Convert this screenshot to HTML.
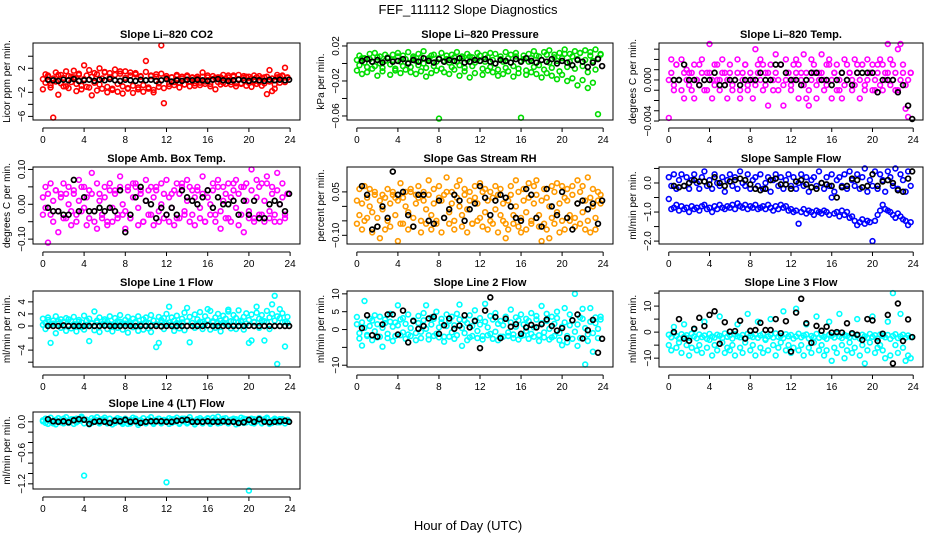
<!DOCTYPE html>
<html><head><meta charset="utf-8"><title>FEF_111112 Slope Diagnostics</title>
<style>
html,body{margin:0;padding:0;background:#fff;}
svg{display:block;font-family:"Liberation Sans",Arial,sans-serif;}
</style></head>
<body>
<svg id="chart" width="936" height="540" viewBox="0 0 936 540" xmlns="http://www.w3.org/2000/svg">
<rect width="936" height="540" fill="#fff"/>
<text x="468" y="14" text-anchor="middle" font-size="13">FEF_111112  Slope Diagnostics</text>
<text x="468" y="530" text-anchor="middle" font-size="13">Hour of Day (UTC)</text>
</svg>
<script>
const hours = [0,0.25,0.5,0.75,1,1.25,1.5,1.75,2,2.25,2.5,2.75,3,3.25,3.5,3.75,4,4.25,4.5,4.75,5,5.25,5.5,5.75,6,6.25,6.5,6.75,7,7.25,7.5,7.75,8,8.25,8.5,8.75,9,9.25,9.5,9.75,10,10.25,10.5,10.75,11,11.25,11.5,11.75,12,12.25,12.5,12.75,13,13.25,13.5,13.75,14,14.25,14.5,14.75,15,15.25,15.5,15.75,16,16.25,16.5,16.75,17,17.25,17.5,17.75,18,18.25,18.5,18.75,19,19.25,19.5,19.75,20,20.25,20.5,20.75,21,21.25,21.5,21.75,22,22.25,22.5,22.75,23,23.25,23.5,23.75];
const hoursK = [0.5,1,1.5,2,2.5,3,3.5,4,4.5,5,5.5,6,6.5,7,7.5,8,8.5,9,9.5,10,10.5,11,11.5,12,12.5,13,13.5,14,14.5,15,15.5,16,16.5,17,17.5,18,18.5,19,19.5,20,20.5,21,21.5,22,22.5,23,23.5,23.9];
const xTicks = [0,4,8,12,16,20,24];

const co2A = [0.2,-0.4,0.6,-0.8,0.3,-0.2,0.9,-0.5,0.4,-1.0,0.7,-0.3,0.5,-0.6,1.1,-0.9,0.2,0.8,-1.2,0.6,-0.4,1.0,-0.7,0.3,1.3,-1.1,0.5,-1.4,0.9,-0.6,1.5,-1.0,0.4,-1.3,0.8,-0.9,1.2,-1.5,0.6,-0.8,1.4,-1.2,0.7,-1.6,1.0,-0.5,1.1,-1.3,0.4,-0.6,0.5,-0.3,0.7,-0.4,0.3,-0.7,0.6,-0.2,0.4,-0.5,0.3,-0.4,0.6,-0.2,0.5,-0.6,0.2,0.4,-0.3,0.5,-0.4,0.3,0.5,-0.3,0.8,-0.5,0.2,-0.6,0.4,0.6,-0.4,0.3,-0.2,0.5,-0.3,0.4,-0.5,0.6,-0.2,0.3,-0.7,0.5,-0.4,0.8,-0.3,0.4];
const co2B = [-1.5,1.0,0.8,-1.2,-6.2,1.3,-2.4,0.9,-1.0,1.5,-1.3,0.6,1.6,-1.8,0.9,-1.5,2.5,-1.1,1.7,-2.5,1.2,-1.7,2.0,-1.4,1.4,-2.0,1.2,-1.6,1.8,-1.9,1.1,-2.2,1.5,-1.4,1.3,-2.1,1.0,-1.2,0.7,-1.9,3.2,-1.4,0.8,-2.0,0.6,-1.1,5.8,-3.8,0.7,-1.0,0.5,-0.8,0.9,-1.2,0.6,-0.7,0.8,-1.0,0.5,-0.9,0.6,-0.8,1.3,-0.6,0.8,-1.0,0.7,-1.5,0.5,-0.7,0.9,-0.6,0.8,-0.7,0.6,-1.0,0.9,-0.5,0.7,-0.9,0.6,-1.1,0.8,-0.6,0.7,-0.9,0.5,-2.3,1.7,-1.8,-1.4,0.9,0.6,0.7,2.1,0.5];
const co2K = [0.1,0,-0.1,0.1,0,0.2,-0.1,0,0.1,-0.1,0.1,0,0.2,0,-0.1,0.1,0,-0.1,0.1,0,0.1,-0.1,0,0.2,-0.2,0,-0.1,0.1,0,0.1,0,-0.1,0.1,0.2,0,-0.1,0,0.1,0,-0.1,0.1,0,-0.1,0.1,0,0.1,0,0.1];

const presA = [0.004,-0.002,0.006,0.001,-0.004,0.005,0.002,-0.003,0.007,0.000,-0.005,0.003,0.006,-0.001,0.004,-0.006,0.008,0.002,-0.003,0.005,0.001,-0.004,0.006,0.003,-0.002,0.007,0.000,-0.005,0.004,0.009,-0.003,0.002,0.006,-0.006,0.003,0.005,0.001,-0.004,0.007,0.002,-0.002,0.006,-0.005,0.004,0.008,-0.003,0.001,0.005,0.003,-0.006,0.002,0.007,-0.004,0.004,0.000,-0.007,0.005,0.002,-0.005,0.006,0.001,-0.003,0.008,-0.006,0.003,0.005,-0.008,0.002,0.006,-0.004,0.009,-0.002,0.004,-0.007,0.010,0.001,-0.005,0.007,0.003,-0.009,0.006,0.011,-0.004,0.002,0.008,-0.006,0.005,0.012,-0.003,0.004,-0.010,0.009,0.003,-0.007,0.006,0.010];
const presB = [-0.008,0.009,-0.012,0.006,-0.010,0.011,-0.006,0.012,-0.014,0.008,-0.009,0.010,0.007,-0.013,0.010,-0.008,0.012,-0.011,0.009,-0.007,0.013,-0.010,0.008,-0.012,0.011,-0.009,0.014,-0.015,0.006,-0.011,0.010,-0.008,-0.063,0.012,-0.010,0.009,-0.012,0.010,-0.007,0.013,-0.014,0.008,-0.009,0.011,-0.016,0.007,-0.011,0.012,0.009,-0.013,0.010,-0.008,0.012,-0.010,0.011,-0.014,0.008,-0.012,0.013,-0.009,0.010,-0.015,0.012,-0.011,-0.062,0.009,-0.013,0.011,-0.010,0.014,-0.012,0.008,-0.016,0.013,-0.011,0.015,-0.014,0.010,-0.018,0.012,-0.013,0.016,-0.020,0.011,-0.017,0.014,-0.025,0.012,-0.019,0.015,-0.028,0.013,-0.022,0.016,-0.058,0.011];
const presK = [0.003,0.005,0.002,0.004,0.001,0.006,0.002,0.003,0.005,0.000,0.004,0.002,0.006,0.003,0.001,0.005,0.002,0.004,0.003,0.006,0.001,0.002,0.004,0.003,0.005,0.002,0.000,0.004,0.003,0.001,0.005,0.002,0.006,0.003,0.001,0.004,0.002,0.005,0.000,0.003,0.001,-0.002,0.004,0.002,-0.004,0.001,0.005,-0.003];

const tempA = [0,0.0007,-0.0005,0.0015,0,-0.001,0.0007,0,-0.0005,0.0007,0.0015,0,-0.0005,0.0007,0,-0.001,0.0007,0,-0.0005,0.0015,0,0.0007,-0.0005,0,0.0007,-0.0005,0,0.0007,-0.001,0,0.0015,-0.0005,0.0007,0,-0.0005,0.0007,0,0.0015,-0.0005,0.0007,0,-0.001,0.0007,0,0.0015,-0.0005,0,0.0007,-0.0005,0,0.0007,0.0015,0,-0.0005,0.0007,-0.001,0,0.0007,-0.0005,0,0.0007,0,-0.0005,0.0015,0,0.0007,-0.001,0,0.0007,-0.0005,0,0.0007,0,-0.0005,0.0007,0,0.0015,-0.0005,0,0.0007,-0.001,0,0.0007,-0.0005,0.0015,0,0.0007,-0.0005,0,0.0007,-0.001,0,0.0007,-0.0005,0,0.0007];
const tempB = [-0.0037,0.002,-0.001,0.0015,0,0.002,-0.0018,0.001,0.0007,-0.001,-0.0018,0,0.0015,0.002,-0.001,0.0007,0.0035,-0.0018,0.0015,0,-0.001,0.002,0.0007,-0.0018,0.0015,-0.001,0,0.002,-0.0018,0.0007,0.0015,-0.001,0,-0.0018,0.003,0.0015,0.002,-0.001,0.0007,-0.0025,0.0015,0,0.0025,-0.001,0.0015,-0.0025,0.002,0.0007,-0.001,0.0015,0.002,-0.0018,0.0007,0.0025,-0.0018,-0.0025,0.002,0.0015,-0.0018,0.0007,0.0025,-0.001,0.0015,0.002,-0.0018,0.0007,0.0015,-0.001,-0.0018,0.002,0.0015,0.0007,-0.001,0.002,0.0015,-0.0018,0.0015,-0.001,0.002,0.0007,0.0015,-0.001,0.0015,0.002,-0.001,0.0007,0.0035,0.002,0.0015,-0.001,0.003,0.0035,0.0015,-0.0028,-0.0036,0.0007];
const tempK = [0,0,0.0015,0,0,-0.0005,0,0,0.0007,-0.0005,-0.0005,0,0,-0.0005,0,0,0,0.0007,0,0,0.0015,0.0015,0.0007,0,0,-0.0005,0,0.0007,0.0007,0,0,-0.0005,0,0.0007,0,-0.0005,0.0007,0.0007,0.0007,0.0007,-0.0012,0,0,0,-0.0012,-0.0005,-0.0025,-0.0038];

const ambA = [0.02,-0.01,0.03,-0.03,0.01,0.04,-0.02,0.02,-0.04,0.03,0.00,-0.02,0.04,-0.03,0.01,0.05,-0.01,0.02,-0.04,0.03,-0.02,0.06,0.01,-0.03,0.02,-0.05,0.04,-0.01,0.03,-0.03,0.05,0.00,-0.02,0.04,-0.04,0.02,0.06,-0.01,0.03,-0.05,0.01,0.04,-0.03,0.02,0.05,-0.02,0.00,0.03,-0.03,0.02,-0.01,0.04,-0.04,0.03,0.06,-0.02,0.01,0.05,-0.03,0.02,0.04,-0.01,0.03,-0.05,0.02,0.00,0.04,-0.03,0.05,-0.02,0.01,0.03,-0.04,0.02,0.06,-0.01,0.03,-0.03,0.05,0.01,-0.02,0.04,-0.04,0.02,0.05,-0.03,0.01,0.06,-0.02,0.03,-0.05,0.04,0.00,0.02,-0.03,0.03];
const ambB = [-0.03,0.05,-0.11,0.06,-0.05,0.04,-0.08,0.03,0.06,-0.04,0.05,-0.06,0.03,-0.05,0.07,-0.02,0.05,-0.06,0.04,0.09,-0.05,-0.07,0.03,-0.04,0.05,-0.06,0.06,-0.05,0.04,-0.04,0.08,-0.03,-0.07,0.05,-0.04,0.06,0.05,-0.06,0.04,-0.05,0.07,-0.03,0.05,-0.06,0.04,-0.05,0.06,-0.04,0.07,-0.05,0.03,-0.06,0.06,-0.04,0.05,-0.03,0.07,-0.05,0.04,-0.06,0.05,-0.04,0.08,-0.05,0.04,-0.03,0.06,-0.05,0.07,-0.07,0.05,-0.04,0.06,-0.05,0.04,0.07,-0.06,0.05,-0.08,0.06,-0.04,0.10,-0.05,0.07,-0.03,0.06,-0.05,0.08,-0.04,0.05,-0.03,0.09,-0.05,0.06,-0.04,0.03];
const ambK = [-0.01,-0.02,-0.02,-0.03,-0.03,0.07,-0.02,0.02,-0.02,-0.02,-0.01,-0.02,-0.01,-0.02,0.04,-0.08,-0.03,0.02,0.05,0.01,0.00,-0.04,-0.01,-0.03,-0.01,-0.03,0.04,0.02,0.01,0.00,0.02,0.04,-0.01,0.02,0.00,0.00,0.01,-0.03,0.01,-0.03,0.01,-0.04,-0.04,0.00,0.01,0.00,-0.02,0.03];

const rhA = [0.02,-0.03,0.01,-0.05,0.03,0.00,-0.02,0.04,-0.04,0.02,-0.01,0.03,-0.05,0.01,0.04,-0.03,0.02,-0.06,0.03,0.00,-0.02,0.05,-0.04,0.01,0.03,-0.05,0.02,-0.01,0.04,-0.03,0.01,-0.06,0.03,0.02,-0.04,0.05,-0.02,0.01,-0.05,0.03,0.00,-0.03,0.04,-0.01,0.02,-0.06,0.03,0.01,-0.04,0.05,-0.02,0.02,-0.05,0.03,-0.01,0.04,-0.03,0.01,-0.06,0.02,0.04,-0.03,0.00,0.05,-0.04,0.02,-0.02,0.03,-0.05,0.01,0.04,-0.03,0.02,-0.06,0.03,0.00,-0.04,0.05,-0.02,0.01,-0.05,0.03,0.02,-0.03,0.04,-0.04,0.01,0.05,-0.02,0.02,-0.05,0.03,0.00,-0.04,0.02,0.01];
const rhB = [-0.06,0.06,-0.08,0.07,-0.04,0.06,-0.09,0.05,-0.07,-0.11,0.04,-0.08,0.06,-0.07,0.05,0.03,-0.12,0.08,-0.06,0.05,-0.08,0.06,-0.07,0.04,0.07,-0.09,0.05,-0.06,0.09,-0.08,0.06,-0.05,0.07,-0.09,0.04,0.10,-0.06,0.05,-0.08,0.07,0.09,-0.07,0.06,-0.09,0.05,-0.06,0.07,-0.05,0.08,-0.07,0.06,-0.08,0.05,-0.06,0.07,-0.09,0.06,-0.05,-0.11,-0.08,0.07,-0.06,0.09,-0.07,-0.09,0.06,-0.08,0.08,-0.06,0.07,0.09,-0.07,-0.12,0.06,-0.08,-0.11,0.07,-0.06,0.08,-0.09,0.07,-0.08,0.06,-0.05,0.07,-0.07,0.09,-0.06,0.07,-0.08,0.10,-0.09,0.06,-0.08,0.05,0.04];
const rhK = [0.07,0.04,-0.08,-0.07,0.00,-0.04,0.12,0.04,0.05,-0.03,-0.07,0.04,0.04,-0.05,-0.06,0.02,-0.04,-0.01,0.04,0.02,-0.05,-0.01,0.01,0.07,0.03,-0.03,0.02,0.04,0.03,0.00,-0.04,-0.05,0.06,0.04,-0.04,-0.07,0.06,0.00,-0.03,0.05,-0.04,-0.08,0.01,0.02,-0.01,0.01,-0.06,0.02];

const sampA = [0.2,-0.1,0.3,-0.2,0.1,0.3,-0.1,0.2,-0.2,0.1,0.3,0.0,-0.2,0.2,0.4,-0.1,0.1,-0.2,0.3,0.0,-0.1,0.2,-0.3,0.1,0.3,-0.1,0.2,-0.2,0.4,0.0,-0.1,0.3,-0.2,0.1,0.2,-0.1,0.3,-0.2,0.0,0.2,-0.3,0.1,0.3,-0.1,0.2,-0.2,0.1,0.3,-0.1,0.2,-0.2,0.0,0.3,-0.1,0.2,-0.3,0.1,0.2,-0.1,0.4,0.0,-0.2,0.2,-0.1,0.3,-0.3,0.1,0.2,-0.1,0.3,-0.2,0.4,0.1,-0.1,0.3,-0.2,0.2,0.5,-0.3,0.1,-0.1,0.4,-0.2,0.3,0.1,-0.3,0.4,0.2,-0.1,0.5,-0.2,0.3,0.1,-0.3,0.4,-0.1];
const sampB = [-0.55,-0.9,-0.85,-0.75,-0.95,-0.8,-0.9,-0.85,-1.0,-0.8,-0.9,-0.85,-0.95,-0.8,-0.75,-0.9,-0.85,-1.0,-0.8,-0.9,-0.75,-0.85,-0.9,-0.8,-0.85,-0.75,-0.9,-0.7,-0.8,-0.85,-0.75,-0.9,-0.8,-0.85,-0.75,-0.9,-0.85,-0.8,-0.9,-0.75,-0.85,-0.95,-0.8,-0.9,-0.75,-0.85,-0.8,-0.95,-0.9,-1.0,-0.95,-1.4,-1.0,-0.9,-1.05,-0.95,-1.0,-1.1,-0.95,-1.0,-1.05,-0.95,-1.0,-1.1,-0.5,-1.05,-1.0,-1.15,-0.95,-1.1,-1.0,-1.2,-1.15,-1.3,-1.45,-1.35,-1.25,-1.4,-1.3,-1.35,-2.0,-1.3,-1.1,-0.95,-0.75,-0.9,-0.95,-1.0,-1.1,-1.2,-1.05,-1.15,-1.25,-1.3,-1.45,-1.35];
const sampK = [-0.1,-0.15,-0.1,0.0,0.1,0.05,0.05,-0.05,0.2,0.0,-0.1,0.05,0.1,0.15,0.1,-0.05,-0.2,-0.25,-0.2,0.1,0.15,-0.05,-0.05,-0.2,0.05,0.1,-0.05,-0.15,-0.2,0.0,-0.05,-0.1,-0.5,-0.15,-0.1,0.15,0.1,-0.15,-0.1,0.3,-0.1,0.05,0.1,0.0,-0.25,-0.3,0.15,0.4];

const l1A = [1.2,0.5,1.4,0.2,0.9,1.6,0.4,1.1,0.7,1.3,0.1,0.8,1.5,0.3,1.0,0.6,1.7,0.2,1.2,0.5,2.4,0.9,1.4,0.3,1.1,0.7,1.6,0.2,1.3,0.8,1.8,0.4,1.0,1.5,0.3,1.2,0.7,1.6,0.2,1.1,1.4,0.5,1.8,0.9,0.3,1.5,1.0,1.3,2.0,0.6,1.4,0.9,1.7,0.4,1.2,2.2,0.8,1.5,0.5,1.9,1.1,2.3,0.7,1.6,1.0,2.5,0.6,1.4,2.0,0.9,1.7,1.2,2.4,0.8,1.8,1.3,2.6,0.7,1.5,2.1,1.0,1.9,0.6,2.2,1.2,1.8,0.8,2.5,1.4,2.0,0.9,1.6,1.3,2.1,0.7,1.5];
const l1B = [0.2,-0.5,1.0,-2.8,0.4,-1.2,0.8,-0.3,0.6,-0.8,1.1,-0.4,0.3,-0.9,0.7,-0.2,-0.6,0.9,-2.5,0.4,-0.7,0.6,-1.0,0.2,0.8,-0.5,0.3,-0.9,0.5,-0.3,0.7,-0.6,0.4,-1.1,0.6,-0.2,0.5,-0.8,0.3,-0.6,0.7,-0.4,-1.0,0.9,-3.5,-2.8,0.6,-0.5,0.4,3.2,0.3,-0.8,0.5,-0.4,0.6,-0.7,3.0,-2.7,0.5,-0.3,0.2,0.7,-0.5,0.4,2.8,-0.6,0.8,-0.3,0.5,-0.9,0.6,0.3,2.7,-0.4,0.8,-0.5,0.6,0.9,-0.6,0.4,-2.8,-2.4,0.7,3.2,-0.3,0.9,-2.4,0.6,-0.5,3.6,5.0,-6.3,2.8,0.6,-3.4,0.5];
const l1K = [0,0,0,0.1,0,0,0,0,0,0,0,0.05,0,0,0,0,0,0,0,0,0,0,-0.05,0,0,0,0,0,0,0,0,0.1,0,0,0,0,0,0,0,0.05,0,0,0,0,0,0,0,0];

const l2A = [1.5,-1.0,2.0,0.5,-1.5,1.0,2.5,-0.5,1.5,-2.0,0.5,1.8,-1.2,2.2,0.8,-1.8,1.2,2.8,-0.8,1.6,-1.4,0.4,2.4,-1.0,1.8,-0.6,2.6,0.2,-1.6,1.4,3.0,-1.2,0.6,2.0,-2.0,1.0,2.4,-0.8,1.2,-1.6,2.8,0.4,-1.0,1.8,-2.2,1.0,2.6,-0.4,1.4,-1.8,2.2,0.6,-1.2,2.8,-0.6,1.6,-2.0,1.2,3.0,-0.8,2.0,-1.4,0.8,2.6,-1.8,1.4,-0.4,2.4,-1.2,0.6,2.8,-1.6,1.8,-0.8,2.4,0.2,-2.2,1.6,3.2,-1.0,0.8,2.0,-1.8,1.2,2.6,-0.6,1.4,-2.4,3.0,0.4,-1.4,2.2,-1.0,1.8,0.2,2.8];
const l2B = [3.5,-2.5,-4.5,8.0,-1.8,3.0,-3.0,4.0,-2.2,3.6,-4.8,2.8,-2.4,4.4,-3.2,2.0,6.8,-1.6,3.2,-2.6,4.2,-1.8,2.6,-3.0,3.8,-2.4,4.6,6.8,-2.8,3.4,-1.8,5.0,-2.2,3.0,-3.4,4.2,-2.0,3.6,-2.6,4.4,7.0,-4.6,2.6,-3.0,4.0,-1.8,5.4,-2.4,3.2,-2.8,7.2,-1.6,3.8,-2.6,4.6,-3.0,2.4,-2.0,3.6,-1.8,5.6,-2.4,3.4,-2.8,4.2,-1.6,3.0,-2.6,4.6,-2.0,3.8,-3.2,6.6,-2.2,4.4,-2.8,3.6,-1.8,5.0,-3.0,-4.4,6.0,-3.6,4.2,-2.6,10.0,-4.6,3.4,5.8,-9.8,-3.2,6.0,-6.2,3.4,-2.4,3.6];
const l2K = [0.4,4.0,-1.6,-2.0,1.4,4.2,4.2,-1.4,5.3,-3.6,2.4,0.2,1.0,3.1,3.6,-1.2,1.2,3.1,0.2,1.1,4.0,0.6,2.4,-5.2,5.3,9.0,3.5,-2.4,3.0,0.8,1.5,-1.2,0.6,1.3,0.6,1.5,2.8,1.0,-0.3,0.4,-2.4,2.6,4.2,-2.5,-0.2,2.7,-6.5,-2.6];

const l3A = [-1.0,-2.0,-0.5,-1.5,-2.5,-0.8,-1.8,-1.2,-2.2,-0.6,-1.6,-2.4,-0.9,-1.9,-1.3,-2.6,-0.7,-1.7,-2.1,-1.0,-1.4,-2.3,-0.5,-1.8,-1.2,-2.5,-0.8,-1.6,-2.0,-1.1,-2.4,-0.6,-1.5,-1.9,-0.9,-2.2,-1.3,-0.7,-2.6,-1.7,-1.0,-2.1,-0.5,-1.8,-1.4,-2.3,-0.8,-1.6,-1.1,-2.5,-1.7,-0.6,-2.0,-1.3,-0.9,-2.4,-1.5,-1.9,-0.7,-2.2,-1.2,-1.8,-2.6,-1.0,-1.4,-2.1,-0.6,-1.7,-2.3,-1.1,-1.5,-2.0,-0.8,-1.9,-1.3,-2.5,-1.0,-1.6,-2.2,-0.7,-1.8,-1.2,-2.4,-0.9,-1.4,-2.0,-1.1,-2.6,-1.5,-0.8,-2.3,-1.7,-1.0,-2.1,-1.3,-1.9];
const l3B = [-5,-7,2,-6,-4,-8,3,-5,-9,-6,1,-7,-5,-8,4,-6,-3,-9,-5,-7,6,-4,-8,-6,-7,-5,-9,3,-6,-8,-4,7,-7,-5,-9,4,-6,-8,-3,-7,5,-5,-9,-6,-4,8,-7,-5,-8,-6,9,-7,-5,-9,3,-6,-8,-4,6,-7,-5,-9,-7,4,-11,-6,-8,7,-5,-10,-7,-4,-8,-6,5,-9,-5,-12,-7,-4,6,-8,-6,-5,-7,-10,4,-9,15,-5,-8,7,-6,-11,-9,-10];
const l3K = [0,5,-2.5,-3.3,1.3,5.5,2.3,6.6,8,-4.5,3.8,0.2,0.4,4.4,-2.5,0.5,0.8,3.6,0.8,0.8,5,-0.4,4.2,-7.5,7.5,12.8,3.4,-4.1,2.4,0.5,2.1,-0.2,0,-0.2,3.4,-0.4,-1,-3,5,4.5,-3.4,-0.6,6.6,-12,11,-3.4,4.9,-1.9];

const l4A = [0.03,-0.02,0.05,0.01,-0.03,0.04,0.00,-0.01,0.06,0.02,-0.02,0.03,0.05,-0.01,0.02,0.07,-0.03,0.04,0.01,-0.02,0.05,0.03,-0.01,0.02,0.04,-0.03,0.06,0.00,-0.02,0.03,0.05,-0.01,0.02,-0.04,0.04,0.01,0.06,-0.02,0.03,0.00,-0.03,0.05,0.02,-0.01,0.04,0.06,-0.02,0.01,0.03,-0.04,0.05,0.00,0.02,-0.02,0.06,0.01,-0.03,0.04,0.02,-0.01,0.05,0.03,-0.02,0.04,0.07,-0.01,0.02,0.05,-0.03,0.03,0.06,0.00,-0.02,0.04,0.01,0.05,-0.03,0.02,0.06,-0.01,0.03,-0.02,0.05,0.01,0.04,-0.03,0.02,0.06,0.00,-0.02,0.04,0.03,-0.01,0.05,0.02,0.01];
const l4B = [0.01,0.06,-0.04,0.08,0.02,-0.05,0.07,0.03,-0.03,0.09,0.00,0.05,-0.04,0.06,0.02,0.10,-1.04,0.04,-0.05,0.07,0.01,0.09,-0.03,0.05,0.08,-0.02,0.06,-0.05,0.04,0.07,0.00,-0.04,0.06,0.02,-0.03,0.08,0.05,-0.06,0.03,0.07,-0.02,0.05,0.09,-0.04,0.02,0.06,-0.03,0.04,-1.17,0.07,-0.02,0.05,0.08,-0.04,0.03,0.06,-0.01,0.09,0.02,-0.05,0.05,0.07,-0.03,0.04,0.06,-0.04,0.08,0.02,0.10,-0.02,0.05,0.07,-0.03,0.04,0.06,-0.05,0.03,0.08,-0.02,0.05,-1.33,0.06,-0.03,0.04,0.07,-0.02,0.05,0.08,-0.04,0.03,0.06,-0.01,0.05,0.02,-0.03,0.04];
const l4K = [0.05,0.01,0.00,0.01,-0.01,0.03,0.05,0.04,-0.04,0.00,0.01,0.00,-0.02,0.02,0.01,0.04,0.00,0.01,-0.02,0.00,0.01,0.01,0.01,0.00,0.00,0.02,0.03,0.04,0.00,0.00,0.00,0.01,0.00,0.00,0.01,0.00,0.00,-0.02,-0.01,0.04,0.00,0.05,0.00,-0.01,0.00,0.01,0.02,0.00];

const panels = [
 {name:'co2',title:'Slope Li\u2013820 CO2',ylab:'Licor ppm per min.',col:0,row:0,ymin:-6.6,ymax:6.2,ticks:[-6,-4,-2,0,2,4],labels:[-6,-2,2],lfmt:v=>v<0?'\u2212'+(-v):''+v,color:'#ff0000',A:co2A,B:co2B,K:co2K},
 {name:'pressure',title:'Slope Li\u2013820 Pressure',ylab:'kPa per min.',col:1,row:0,ymin:-0.0646,ymax:0.0234,ticks:[-0.06,-0.04,-0.02,0,0.02],labels:[-0.06,-0.02,0.02],lfmt:v=>(v<0?'\u2212':'')+Math.abs(v).toFixed(2),color:'#00dd00',A:presA,B:presB,K:presK},
 {name:'temp',title:'Slope Li\u2013820 Temp.',ylab:'degrees C per min.',col:2,row:0,ymin:-0.0039,ymax:0.0036,ticks:[-0.004,-0.003,-0.002,-0.001,0,0.001,0.002,0.003],labels:[-0.004,0],lfmt:v=>(v<0?'\u2212':'')+Math.abs(v).toFixed(3),color:'#ff00ff',A:tempA,B:tempB,K:tempK},
 {name:'amb-box-temp',title:'Slope Amb. Box Temp.',ylab:'degrees C per min.',col:0,row:1,ymin:-0.114,ymax:0.107,ticks:[-0.10,-0.05,0,0.05,0.10],labels:[-0.10,0,0.10],lfmt:v=>(v<0?'\u2212':'')+Math.abs(v).toFixed(2),color:'#ff00ff',A:ambA,B:ambB,K:ambK},
 {name:'gas-rh',title:'Slope Gas Stream RH',ylab:'percent per min.',col:1,row:1,ymin:-0.13,ymax:0.136,ticks:[-0.10,-0.05,0,0.05],labels:[-0.10,0.05],lfmt:v=>(v<0?'\u2212':'')+Math.abs(v).toFixed(2),color:'#ff9a00',A:rhA,B:rhB,K:rhK},
 {name:'sample-flow',title:'Slope Sample Flow',ylab:'ml/min per min.',col:2,row:1,ymin:-2.1,ymax:0.55,ticks:[-2,-1.5,-1,-0.5,0,0.5],labels:[-2,-1,0],lfmt:v=>(v<0?'\u2212':'')+Math.abs(v).toFixed(1),color:'#0000ff',A:sampA,B:sampB,K:sampK},
 {name:'line1-flow',title:'Slope Line 1 Flow',ylab:'ml/min per min.',col:0,row:2,ymin:-6.8,ymax:5.8,ticks:[-6,-4,-2,0,2,4],labels:[-4,0,2,4],lfmt:v=>v<0?'\u2212'+(-v):''+v,color:'#00ffff',A:l1A,B:l1B,K:l1K},
 {name:'line2-flow',title:'Slope Line 2 Flow',ylab:'ml/min per min.',col:1,row:2,ymin:-10.5,ymax:10.8,ticks:[-10,-5,0,5,10],labels:[-10,0,5,10],lfmt:v=>v<0?'\u2212'+(-v):''+v,color:'#00ffff',A:l2A,B:l2B,K:l2K},
 {name:'line3-flow',title:'Slope Line 3 Flow',ylab:'ml/min per min.',col:2,row:2,ymin:-13.4,ymax:15.8,ticks:[-10,-5,0,5,10,15],labels:[-10,0,10],lfmt:v=>v<0?'\u2212'+(-v):''+v,color:'#00ffff',A:l3A,B:l3B,K:l3K},
 {name:'line4-flow',title:'Slope Line 4 (LT) Flow',ylab:'ml/min per min.',col:0,row:3,ymin:-1.30,ymax:0.19,ticks:[-1.2,-1.0,-0.8,-0.6,-0.4,-0.2,0],labels:[-1.2,-0.6,0],lfmt:v=>(v<0?'\u2212':'')+Math.abs(v).toFixed(1),color:'#00ffff',A:l4A,B:l4B,K:l4K}
];

const colX = [[33,300],[347,613],[659,923]];
const ylabX = [10,324,636];
const rowY = [[43,120],[167,244],[291,367],[412,489]];
const NS = 'http://www.w3.org/2000/svg';
const svg = document.getElementById('chart');
function mk(tag, attrs, parent){const e=document.createElementNS(NS,tag);for(const k in attrs)e.setAttribute(k,attrs[k]);(parent||svg).appendChild(e);return e;}

panels.forEach(p=>{
  const [x0,x1]=colX[p.col], [y0,y1]=rowY[p.row];
  const g = mk('g',{});
  
  
  const xs = v => x0 + (v - (-0.96)) / (24.96 - (-0.96)) * (x1 - x0);
  const ys = v => y1 - (v - p.ymin) / (p.ymax - p.ymin) * (y1 - y0);
  const t = mk('text',{x:(x0+x1)/2,y:y0-5,'text-anchor':'middle','font-size':'11','font-weight':'bold'},g);
  t.textContent = p.title;
  
  
  const yl = mk('text',{x:0,y:0,transform:`translate(${ylabX[p.col]},${(y0+y1)/2}) rotate(-90)`,'text-anchor':'middle','font-size':'10'},g);
  yl.textContent = p.ylab;
  
  
  // points
  const pts = mk('g',{fill:'none'},g);
  
  
  [p.A,p.B].forEach(arr=>{
    const n=Math.min(arr.length,hours.length);
    for(let i=0;i<n;i++){
      const c = mk('circle',{cx:xs(hours[i]).toFixed(1),cy:ys(arr[i]).toFixed(1),r:2.4,stroke:p.color,'stroke-width':1.6},pts);
      
      
    }
  });
  const kg = mk('g',{fill:'none'},g);
  
  
  const nk=Math.min(p.K.length,hoursK.length);
  for(let i=0;i<nk;i++){
    const c = mk('circle',{cx:xs(hoursK[i]).toFixed(1),cy:ys(p.K[i]).toFixed(1),r:2.4,stroke:'#000','stroke-width':1.7},kg);
    
    
  }
  // box
  const box = mk('rect',{x:x0,y:y0,width:x1-x0,height:y1-y0,fill:'none',stroke:'#000','stroke-width':1},g);
  
  
  // y axis
  const ya = mk('g',{stroke:'#000','stroke-width':1},g);
  
  
  p.ticks.forEach(v=>{
    const yy=ys(v);
    mk('line',{x1:x0-5,x2:x0,y1:yy,y2:yy},ya);
  });
  mk('line',{x1:x0,x2:x0,y1:ys(p.ticks[0]),y2:ys(p.ticks[p.ticks.length-1])},ya);
  p.labels.forEach(v=>{
    const yy=ys(v);
    const lt = mk('text',{x:0,y:0,transform:`translate(${x0-8},${yy}) rotate(-90)`,'text-anchor':'middle','font-size':'10',stroke:'none'},ya);
    lt.textContent = p.lfmt(v);
    
    
  });
  // x axis
  const xa = mk('g',{stroke:'#000','stroke-width':1},g);
  
  
  const ay = y1+8;
  mk('line',{x1:xs(xTicks[0]),x2:xs(xTicks[xTicks.length-1]),y1:ay,y2:ay},xa);
  xTicks.forEach(v=>{
    mk('line',{x1:xs(v),x2:xs(v),y1:ay,y2:ay+4},xa);
    const lt = mk('text',{x:xs(v),y:ay+15,'text-anchor':'middle','font-size':'10',stroke:'none'},xa);
    lt.textContent = v;
    
    
  });
});
</script>
</body></html>
